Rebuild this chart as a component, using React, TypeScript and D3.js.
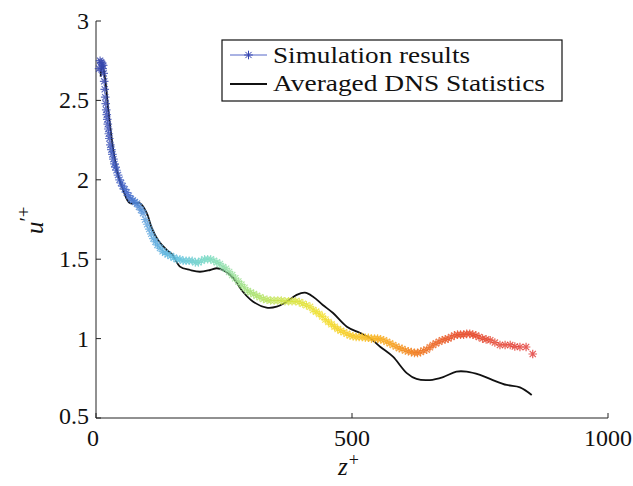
import React from "react";
import * as d3 from "d3";

// Simulation results (z+, u'+)
const simZ = [6, 8, 10, 12, 13, 14, 15, 16, 17, 18, 19, 20, 21, 22, 23, 24, 25, 26, 28, 30, 32, 34, 36, 38, 40, 43, 46, 49, 52, 56, 60, 64, 68, 72, 76, 80, 84, 88, 92, 96, 100, 104, 108, 112, 116, 120, 125, 130, 135, 140, 146, 152, 158, 164, 170, 176, 182, 188, 194, 200, 206, 212, 218, 224, 230, 236, 242, 248, 254, 260, 266, 272, 278, 284, 290, 296, 302, 308, 314, 320, 327, 334, 341, 348, 355, 362, 369, 376, 383, 390, 397, 404, 411, 418, 424, 430, 436, 442, 448, 454, 460, 466, 472, 478, 484, 490, 496, 502, 508, 514, 520, 526, 532, 538, 544, 550, 556, 562, 568, 574, 580, 586, 592, 598, 604, 610, 616, 622, 628, 634, 640, 646, 652, 658, 664, 670, 676, 682, 688, 694, 700, 706, 712, 718, 724, 730, 736, 742, 748, 755, 762, 770, 779, 789, 799, 809, 818, 828, 840, 853];
const simU = [2.70, 2.75, 2.74, 2.73, 2.70, 2.72, 2.67, 2.62, 2.57, 2.52, 2.48, 2.44, 2.41, 2.38, 2.35, 2.32, 2.29, 2.26, 2.22, 2.19, 2.16, 2.13, 2.10, 2.08, 2.06, 2.03, 2.00, 1.98, 1.96, 1.94, 1.92, 1.90, 1.88, 1.87, 1.86, 1.85, 1.83, 1.81, 1.79, 1.75, 1.72, 1.69, 1.66, 1.63, 1.61, 1.59, 1.57, 1.55, 1.54, 1.53, 1.52, 1.51, 1.50, 1.50, 1.49, 1.49, 1.49, 1.49, 1.48, 1.48, 1.49, 1.50, 1.50, 1.50, 1.49, 1.48, 1.47, 1.45, 1.44, 1.42, 1.40, 1.38, 1.36, 1.34, 1.32, 1.30, 1.29, 1.28, 1.27, 1.26, 1.25, 1.245, 1.24, 1.24, 1.24, 1.24, 1.235, 1.235, 1.235, 1.235, 1.23, 1.22, 1.21, 1.20, 1.18, 1.17, 1.155, 1.14, 1.12, 1.105, 1.09, 1.075, 1.06, 1.05, 1.04, 1.03, 1.02, 1.015, 1.01, 1.01, 1.01, 1.005, 1.005, 1.00, 1.00, 1.00, 0.995, 0.99, 0.98, 0.97, 0.96, 0.95, 0.94, 0.935, 0.925, 0.92, 0.915, 0.91, 0.91, 0.915, 0.925, 0.93, 0.945, 0.96, 0.97, 0.98, 0.99, 0.995, 1.00, 1.01, 1.02, 1.025, 1.025, 1.025, 1.03, 1.03, 1.025, 1.02, 1.01, 1.00, 0.995, 0.99, 0.975, 0.96, 0.96, 0.96, 0.95, 0.947, 0.947, 0.903];

// Averaged DNS statistics
const dnsZ = [9, 12, 18, 24, 31, 37, 44, 53, 66, 86, 99, 109, 121, 138, 150, 164, 184, 203, 223, 236, 248, 268, 287, 307, 333, 353, 372, 392, 408, 424, 443, 463, 490, 516, 535, 555, 580, 607, 626, 652, 678, 704, 724, 750, 775, 802, 828, 851];
const dnsU = [2.65, 2.73, 2.63, 2.44, 2.25, 2.125, 2.02, 1.936, 1.854, 1.852, 1.791, 1.696, 1.621, 1.558, 1.526, 1.453, 1.432, 1.421, 1.432, 1.443, 1.432, 1.382, 1.295, 1.232, 1.195, 1.201, 1.232, 1.275, 1.289, 1.264, 1.212, 1.161, 1.075, 1.035, 1.004, 0.949, 0.886, 0.783, 0.746, 0.739, 0.758, 0.792, 0.792, 0.771, 0.739, 0.708, 0.693, 0.645];

const xTicks = [0, 500, 1000];
const yTicks = [0.5, 1, 1.5, 2, 2.5, 3];
const legendLabels = ["Simulation results", "Averaged DNS Statistics"];

const colorStops = [0, 60, 100, 160, 220, 300, 370, 440, 520, 580, 630, 700, 860];
const colorValues = ["#3540a8", "#3f63c8", "#5aa0dc", "#62c2e0", "#7fdcc4", "#a6e27a", "#cfe444", "#f2e02e", "#f9c224", "#f6a224", "#f07a22", "#e85530", "#e03030"];

const FONT = "Liberation Serif";
const star = "M-4.3,0H4.3M0,-4.3V4.3M-3.1,-3.1L3.1,3.1M-3.1,3.1L3.1,-3.1";

export default function App() {
  const W = 633, H = 486;
  const x = d3.scaleLinear().domain([0, 1000]).range([96, 608]);
  const y = d3.scaleLinear().domain([0.5, 3]).range([418, 21]);
  const color = d3.scaleLinear<string>().domain(colorStops).range(colorValues).interpolate(d3.interpolateRgb);

  const dns = dnsZ.map((z, i) => [z, dnsU[i]] as [number, number]);
  const line = d3.line<[number, number]>().x(d => x(d[0])).y(d => y(d[1])).curve(d3.curveCatmullRom.alpha(0.5));

  return (
    <svg width={W} height={H} style={{ position: "absolute", left: 0, top: 0, background: "#fff" }}>
      <rect width={W} height={H} fill="#fff" />
      <line x1={96} x2={608} y1={418} y2={418} stroke="#222" strokeWidth={1} />
      <line x1={96} x2={96} y1={21} y2={418} stroke="#222" strokeWidth={1} />
      {xTicks.map(t => (
        <g key={"xt" + t}>
          <line x1={x(t)} x2={x(t)} y1={418} y2={413} stroke="#222" />
          <text x={x(t) - (t === 0 ? 3 : 0)} y={446} textAnchor="middle" style={{ fontFamily: FONT }} fontSize={24} fill="#111">{t}</text>
        </g>
      ))}
      {yTicks.map(t => (
        <g key={"yt" + t}>
          <line x1={96} x2={101} y1={y(t)} y2={y(t)} stroke="#222" />
          <text x={89} y={y(t) + (t === 0.5 ? 6 : 8)} textAnchor="end" style={{ fontFamily: FONT }} fontSize={24} fill="#111">{String(t)}</text>
        </g>
      ))}
      <text x={338} y={475} style={{ fontFamily: FONT }} fontSize={25} fill="#111">
        <tspan fontStyle="italic">z</tspan>
        <tspan fontSize={18} dx={1} dy={-9}>+</tspan>
      </text>
      <g transform="translate(43,234) rotate(-90)">
        <text x={0} y={0} style={{ fontFamily: FONT }} fontSize={25} fill="#111">
          <tspan fontStyle="italic">u</tspan>
          <tspan fontSize={20} dy={-9}>′</tspan>
          <tspan fontSize={19} dy={-4}>+</tspan>
        </text>
      </g>
      <path d={line(dns) || ""} fill="none" stroke="#111" strokeWidth={1.8} />
      {simZ.map((z, i) => (
        <path key={"s" + i} d={star} transform={`translate(${x(z)},${y(simU[i])})`} stroke={color(z)} strokeWidth={1.2} strokeOpacity={0.8} fill="none" />
      ))}
      <rect x={222} y={40} width={340} height={61} fill="#fff" stroke="#111" strokeWidth={1.2} />
      <line x1={230} x2={267} y1={55} y2={55} stroke="#5566c8" strokeWidth={1} />
      <path d={star} transform="translate(248.5,55)" stroke="#3545b0" strokeWidth={1} fill="none" />
      <text x={273} y={63} style={{ fontFamily: FONT }} fontSize={24} fill="#111" textLength={197} lengthAdjust="spacingAndGlyphs">{legendLabels[0]}</text>
      <line x1={230} x2={267} y1={84} y2={84} stroke="#111" strokeWidth={1.8} />
      <text x={273} y={91} style={{ fontFamily: FONT }} fontSize={24} fill="#111" textLength={272} lengthAdjust="spacingAndGlyphs">{legendLabels[1]}</text>
    </svg>
  );
}
